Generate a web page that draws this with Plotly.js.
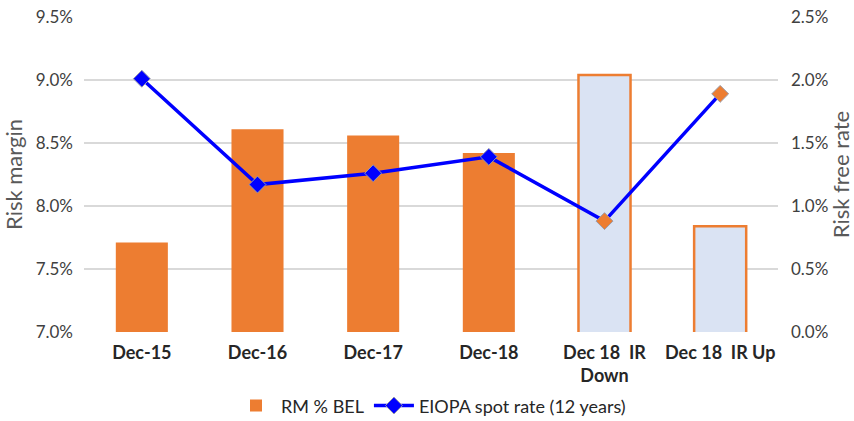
<!DOCTYPE html>
<html>
<head>
<meta charset="utf-8">
<script src="https://cdn.plot.ly/plotly-3.0.1.min.js"></script>
<style>
  html, body { margin: 0; padding: 0; background: #fff; }
  #chart { width: 854px; height: 421px; }
</style>
</head>
<body>
<div id="chart"></div>
<script>
// Categories and values
const categories = ["Dec-15", "Dec-16", "Dec-17", "Dec-18", "Dec\u00a018\u00a0\u00a0IR<br>Down", "Dec\u00a018\u00a0\u00a0IR Up"];
const riskMargin = [0.0771, 0.0861, 0.0856, 0.0842, 0.0904, 0.0784];
const spotRate = [0.0201, 0.0117, 0.0126, 0.0139, 0.0088, 0.0189];
const isShock = [false, false, false, false, true, true];

const orange = "#ED7D31";
const paleBlue = "#DAE3F3";
const blue = "#0000FF";
const fam = "Lato, 'Open Sans', sans-serif";

const barTrace = {
  type: "bar",
  name: "RM % BEL",
  x: categories,
  y: riskMargin,
  width: 0.45,
  marker: {
    color: isShock.map(s => s ? paleBlue : orange),
    line: {
      color: orange,
      width: isShock.map(s => s ? 2.5 : 0)
    }
  },
  hoverinfo: "skip"
};

const lineTrace = {
  type: "scatter",
  mode: "lines+markers",
  name: "EIOPA spot rate (12 years)",
  x: categories,
  y: spotRate,
  yaxis: "y2",
  line: { color: blue, width: 3.5 },
  marker: {
    symbol: "diamond",
    size: 13,
    color: isShock.map(s => s ? orange : blue),
    line: { color: "#9a9aa8", width: 1 }
  },
  hoverinfo: "skip"
};

const tickFont = { family: fam, size: 17, color: "#404040" };
const titleFont = { family: fam, size: 22, color: "#595959" };

const layout = {
  width: 854,
  height: 421,
  margin: { l: 84, r: 76, t: 17, b: 89 },
  paper_bgcolor: "#fff",
  plot_bgcolor: "#fff",
  font: tickFont,
  showlegend: true,
  legend: {
    orientation: "h",
    x: 0.5,
    xanchor: "center",
    yref: "container",
    y: 0.036,
    yanchor: "middle",
    itemwidth: 40,
    font: { family: fam, size: 18, color: "#262626" }
  },
  xaxis: {
    type: "category",
    tickfont: { family: fam, size: 18, color: "#262626", weight: "bold" },
    showgrid: false,
    zeroline: false,
    showline: false,
    ticks: "",
    ticklabelstandoff: 8
  },
  yaxis: {
    range: [0.07, 0.095],
    dtick: 0.005,
    tick0: 0.07,
    tickformat: ".1%",
    tickfont: tickFont,
    gridcolor: "#d9d9d9",
    gridwidth: 1.5,
    zeroline: false,
    showline: false,
    ticks: "",
    ticklabelstandoff: 10,
    title: { text: "Risk margin", font: titleFont, standoff: 12 }
  },
  yaxis2: {
    overlaying: "y",
    side: "right",
    range: [0, 0.025],
    dtick: 0.005,
    tick0: 0,
    tickformat: ".1%",
    tickfont: tickFont,
    showgrid: false,
    zeroline: false,
    showline: false,
    ticks: "",
    ticklabelstandoff: 12,
    title: { text: "Risk free rate", font: titleFont, standoff: 10 }
  }
};

Plotly.newPlot("chart", [barTrace, lineTrace], layout, { displayModeBar: false, staticPlot: true });
</script>
</body>
</html>
